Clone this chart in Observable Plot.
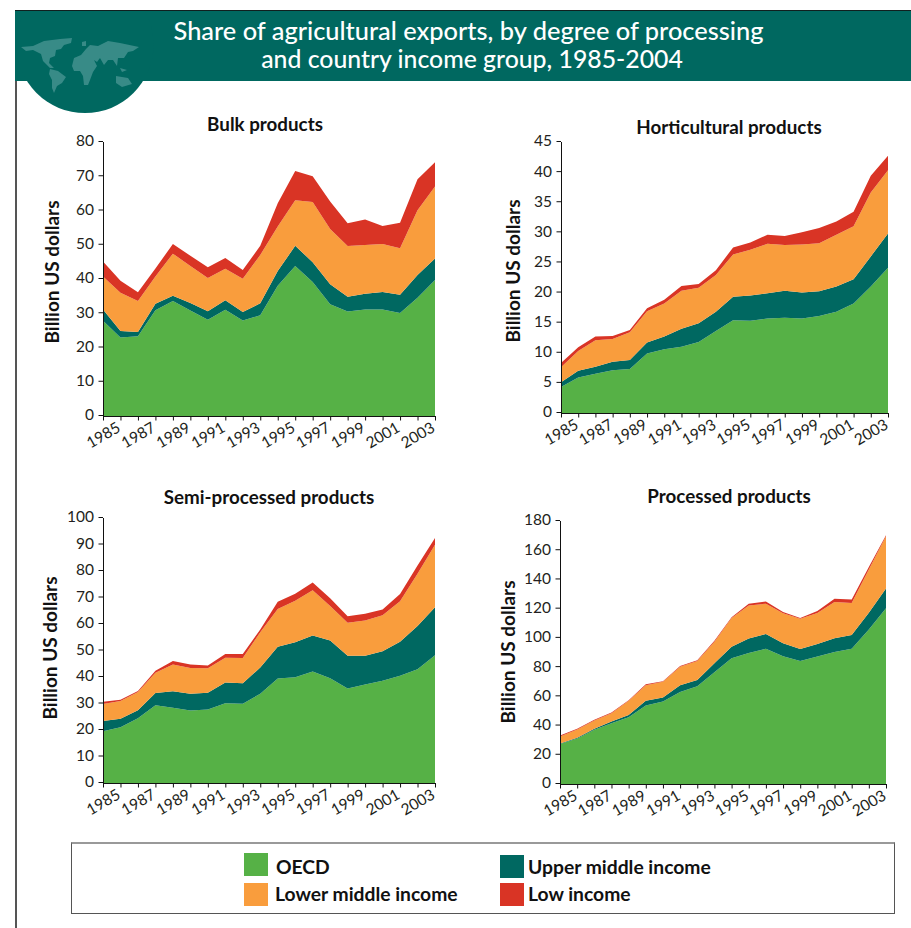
<!DOCTYPE html>
<html><head><meta charset="utf-8">
<script src="https://cdn.jsdelivr.net/npm/d3@7"></script>
<script src="https://cdn.jsdelivr.net/npm/@observablehq/plot@0.6"></script>
<style>
html,body{margin:0;padding:0;background:#fff;overflow:hidden}
#page{position:relative;width:911px;height:928px;font-family:Lato,sans-serif;color:#1a1718;overflow:hidden}
.abs{position:absolute}
#page svg.plot-svg{position:absolute;max-width:none}
.ptitle{position:absolute;font-weight:700;font-size:18.8px;transform:translate(-50%,-50%);white-space:nowrap;color:#111}
.ylab{position:absolute;font-weight:700;font-size:19px;transform:translate(-50%,-50%) rotate(-90deg);white-space:nowrap;color:#111}
.sw{position:absolute;width:24px;height:23px}
.lg{position:absolute;font-weight:700;font-size:19.3px;transform:translateY(-50%);white-space:nowrap;color:#111}
</style></head><body><div id="page"></div>
<script>
const years = d3.range(1985, 2005);
const tickLabelYears = [1985,1987,1989,1991,1993,1995,1997,1999,2001,2003];
const incomeGroups = ["OECD","Upper middle income","Lower middle income","Low income"];
const groupColors = ["#56b146","#006861","#f99d3d","#d93425"];

const bulkOECD  = [27.8,22.9,23.3,30.9,33.6,30.8,28.1,31,27.9,29.4,38,43.8,39.1,32.6,30.5,31.1,31.1,30.1,34.5,39.7];
const bulkUpper = [3.3,1.9,1.2,1.9,1.5,2.2,2.5,2.8,2.5,3.5,4.3,5.9,5.8,5.9,4.3,4.6,5.1,5.3,6.7,6.3];
const bulkLower = [9.6,11.2,9.1,7.9,12.3,10.8,9.7,9.2,9.7,14.1,13,13.3,17.6,16.1,14.8,14.2,14,13.6,18.9,21];
const bulkLow   = [4.4,3.5,2.5,2.4,2.8,3,3.1,3.1,2.5,2.7,6.8,8.5,7.5,8,6.7,7.5,5.3,7.4,9,7.1];

const hortOECD  = [4.3,5.9,6.5,7.1,7.3,9.9,10.6,11,11.8,13.6,15.4,15.3,15.7,15.8,15.7,16.1,16.8,18.2,21,24.1];
const hortUpper = [0.8,1.1,1.2,1.4,1.5,1.8,2.1,3,3.1,3.2,3.9,4.2,4.2,4.5,4.3,4.1,4.2,4,5,5.7];
const hortLower = [2.5,3.3,4.4,3.8,4.6,5.2,5.5,6.3,5.9,6.1,7,7.6,8.2,7.6,8,8,8.6,8.8,10.6,10.5];
const hortLow   = [0.7,0.6,0.6,0.5,0.4,0.5,0.6,0.8,0.6,0.8,1.2,1.2,1.5,1.5,2,2.5,2.2,2.4,2.8,2.4];

const semiOECD  = [19.5,21,24.4,29.3,28.4,27.4,27.7,30.1,29.9,33.7,39.4,39.9,42.1,39.5,35.7,37.2,38.6,40.5,42.9,48.2];
const semiUpper = [3.9,3.2,3.1,4.7,6.2,6.3,6.4,7.8,7.7,9.9,12,13.2,13.6,14.3,12.3,10.8,11.1,12.8,16.3,18.1];
const semiLower = [6.4,6.7,6.8,7.6,10.1,9.7,9.2,9.4,9.6,13.3,14.3,15.7,17,13,12.5,13.3,13.6,15.3,19.8,23.6];
const semiLow   = [0.9,0.5,0.4,0.8,1.3,1.3,1,1.4,1.5,1,2.7,2.6,3,2.9,2.4,2.6,2.2,2.7,3.1,2.6];

const procOECD  = [27.3,31.2,37.1,41.6,45.7,53.7,56.4,63,66.9,76.5,86,89.7,92.6,87.4,84.2,87.2,90.4,92.6,105.8,120.2];
const procUpper = [0.5,0.4,0.7,1.2,1.6,3.2,2.8,4.6,4.3,6.1,8,9.8,10,8.9,8.2,8.6,9.3,9.4,11.4,13.6];
const procLower = [4.7,5.7,5.7,5.7,9.6,10.7,10.7,12.7,13,14.8,19.6,22.7,20.8,20.5,20.7,21.2,24.8,21.8,29.6,35.7];
const procLow   = [0.7,0.5,0.4,0.4,0.5,0.7,0.4,0.5,0.5,0.7,0.6,1.2,1.5,0.9,0.5,1.4,2.3,2.5,1.8,0.7];

const page = document.getElementById("page");
function el(cls, text, css){const d=document.createElement("div");d.className=cls;if(text)d.textContent=text;Object.assign(d.style,css);page.appendChild(d);return d;}

// frame and banner
el("abs","",{left:"15px",top:"10px",width:"2px",height:"918px",background:"#555"});
el("abs","",{left:"15px",top:"10px",width:"896px",height:"71px",background:"#006860",borderTop:"1px solid #10201f",boxSizing:"border-box"});
const globe = document.createElementNS("http://www.w3.org/2000/svg","svg");
globe.setAttribute("width","160");globe.setAttribute("height","104");globe.setAttribute("viewBox","0 11 160 104");
globe.style.cssText="position:absolute;left:0;top:11px";
globe.innerHTML=`<circle cx="85" cy="44.5" r="68.6" fill="#006860"/>
<g fill="#3f8f8c" opacity="0.9">
<path d="M21 47 L33 46 L44 41 L60 39 L72 38 L71 43 L64 45 L61 49 L56 50 L55 56 L50 58 L49 63 L54 68 L50 68 L43 61 L41 54 L33 50 L26 51Z"/>
<path d="M50 69 L58 71 L66 77 L62 83 L57 86 L54 93 L52 88 L52 80 L49 74Z"/>
<path d="M72 66 L74 58 L81 55 L86 49 L90 45 L98 46 L108 41 L120 43 L139 47 L133 51 L128 52 L124 58 L118 58 L117 66 L113 60 L108 60 L104 65 L100 58 L97 62 L94 60 L97 66 L93 72 L90 80 L88 85 L84 85 L83 76 L80 71 L74 71Z"/>
<path d="M116 76 L128 78 L132 84 L122 87 L116 83Z"/>
<path d="M82 42 L86 41 L86 46 L82 46Z"/>
<path d="M120 68 L127 70 L122 72Z"/>
</g>`;
page.appendChild(globe);
el("abs","Share of agricultural exports, by degree of processing",{left:"468.5px",top:"30px",transform:"translate(-50%,-50%)",color:"#fff",fontSize:"25.4px",fontWeight:"500",whiteSpace:"nowrap"});
el("abs","and country income group, 1985-2004",{left:"472px",top:"58px",transform:"translate(-50%,-50%)",color:"#fff",fontSize:"24.8px",fontWeight:"500",whiteSpace:"nowrap"});

function panel(cfg){
  const {series,max,step,x0,x1,y0,y1,title,tx,ty,lx,ly} = cfg;
  const rows = [];
  series.forEach((vals,i)=>vals.forEach((v,j)=>rows.push({year:years[j],group:incomeGroups[i],value:v})));
  const ml=60,mr=30,mt=20,mb=50;
  const chart = Plot.plot({
    width:(x1-x0)+ml+mr,height:(y0-y1)+mt+mb,
    marginLeft:ml,marginRight:mr,marginTop:mt,marginBottom:mb,
    style:{background:"transparent",overflow:"visible",fontFamily:"Lato,sans-serif",fontSize:"15px"},
    x:{domain:[1985,2004]},
    y:{domain:[0,max]},
    color:{domain:incomeGroups,range:groupColors},
    marks:[
      Plot.areaY(rows,{x:"year",y:"value",fill:"group",z:"group"}),
      Plot.axisX({ticks:years,tickSize:4.5,fill:"none",label:null,stroke:"#111"}),
      Plot.text(tickLabelYears,{x:d=>d,y:0,text:d=>String(d),rotate:-30,dy:19,fontSize:15.5,fill:"#231f20",textAnchor:"middle",lineAnchor:"middle"}),
      Plot.axisY({ticks:d3.range(0,max+step,step),tickSize:4.5,tickPadding:5,label:null,stroke:"#111",fill:"#231f20",dy:-1,fontSize:15.5}),
      Plot.ruleX([1985],{stroke:"#111"}),
      Plot.ruleY([0],{stroke:"#111"})
    ]
  });
  chart.classList.add("plot-svg");
  chart.style.position="absolute";
  chart.style.left=(x0-ml)+"px";
  chart.style.top=(y1-mt)+"px";
  chart.style.maxWidth="none";
  page.appendChild(chart);
  el("ptitle",title,{left:tx+"px",top:ty+"px"});
  el("ylab","Billion US dollars",{left:lx+"px",top:ly+"px"});
}
panel({series:[bulkOECD,bulkUpper,bulkLower,bulkLow],max:80,step:10,x0:102.5,x1:434.5,y0:416,y1:142,title:"Bulk products",tx:265,ty:123,lx:51,ly:272});
panel({series:[hortOECD,hortUpper,hortLower,hortLow],max:45,step:5,x0:560.5,x1:887.5,y0:413,y1:142,title:"Horticultural products",tx:729,ty:126,lx:512,ly:271});
panel({series:[semiOECD,semiUpper,semiLower,semiLow],max:100,step:10,x0:102.5,x1:434.5,y0:783,y1:518,title:"Semi-processed products",tx:269,ty:496,lx:49,ly:648});
panel({series:[procOECD,procUpper,procLower,procLow],max:180,step:20,x0:559.5,x1:885.5,y0:784,y1:521,title:"Processed products",tx:729,ty:495,lx:507,ly:652});

// legend
el("abs","",{left:"71px",top:"842px",width:"824px",height:"72px",boxSizing:"border-box",border:"1px solid #555",borderTop:"2px solid #999"});
const legendPos=[[244,853,276,866],[500,855,528,866],[244,883,275,893],[500,883,528,893]];
incomeGroups.forEach((g,i)=>{
  const [sx,sy,tx,ty]=legendPos[i];
  el("sw","",{left:sx+"px",top:sy+"px",background:groupColors[i]});
  el("lg",g,{left:tx+"px",top:ty+"px"});
});
</script></body></html>
